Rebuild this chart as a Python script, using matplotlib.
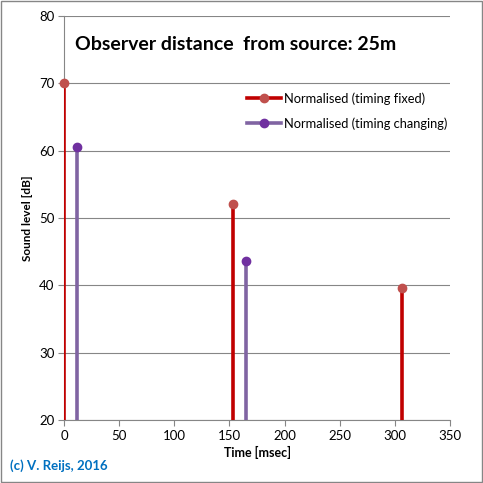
import matplotlib.pyplot as plt
from matplotlib.lines import Line2D
from matplotlib.patches import Rectangle

plt.rcParams['font.family'] = ['Lato', 'DejaVu Sans']

# Data
fixed_time = [0, 153, 306.5]
fixed_level = [70.0, 52.1, 39.6]
changing_time = [11.5, 165]
changing_level = [60.6, 43.6]

red_line, red_marker = '#C00000', '#C0504D'
purple_line, purple_marker = '#8064A2', '#7030A0'

fig = plt.figure(figsize=(4.83, 4.83), dpi=100)
ax = fig.add_axes([64 / 483, 63 / 483, 386 / 483, 404 / 483])

ax.set_xlim(0, 350)
ax.set_ylim(20, 80)
ax.set_xticks(range(0, 351, 50))
ax.set_yticks(range(20, 81, 10))
ax.grid(axis='y', color='#868686', linewidth=0.8)
ax.set_axisbelow(True)

for s in ['top', 'right']:
    ax.spines[s].set_visible(False)
for s in ['left', 'bottom']:
    ax.spines[s].set_color('#868686')
ax.tick_params(direction='out', length=4, color='#868686', labelsize=9.5, pad=3)

ax.vlines(fixed_time, 0, fixed_level, color=red_line, linewidth=2.6, zorder=3)
ax.plot(fixed_time, fixed_level, 'o', color=red_marker, markersize=6, zorder=4, clip_on=False)
ax.vlines(changing_time, 0, changing_level, color=purple_line, linewidth=2.6, zorder=3)
ax.plot(changing_time, changing_level, 'o', color=purple_marker, markersize=6, zorder=4, clip_on=False)

ax.set_xlabel('Time [msec]', fontsize=9, fontweight='bold', labelpad=3)
ax.set_ylabel('Sound level [dB]', fontsize=8.5, fontweight='bold', labelpad=4)

handles = [
    Line2D([], [], color=red_line, linewidth=2.6, marker='o', markersize=6,
           markerfacecolor=red_marker, markeredgecolor=red_marker),
    Line2D([], [], color=purple_line, linewidth=2.6, marker='o', markersize=6,
           markerfacecolor=purple_marker, markeredgecolor=purple_marker),
]
ax.legend(handles, ['Normalised (timing fixed)', 'Normalised (timing changing)'],
          loc='upper left', bbox_to_anchor=(0.445, 0.84), frameon=False,
          fontsize=9.3, handlelength=2.6, handletextpad=0.2, labelspacing=0.95)

fig.text(75 / 483, 1 - 45 / 483, 'Observer distance  from source: 25m',
         fontsize=14, fontweight='bold', va='center', ha='left')
fig.text(10 / 483, 1 - 466 / 483, '(c) V. Reijs, 2016', color='#0070C0',
         fontsize=9.5, fontweight='bold', va='center', ha='left')

fig.patches.append(Rectangle((0.002, 0.002), 0.996, 0.996, transform=fig.transFigure,
                             fill=False, edgecolor='#868686', linewidth=1))

fig.savefig('out.png', dpi=100)
